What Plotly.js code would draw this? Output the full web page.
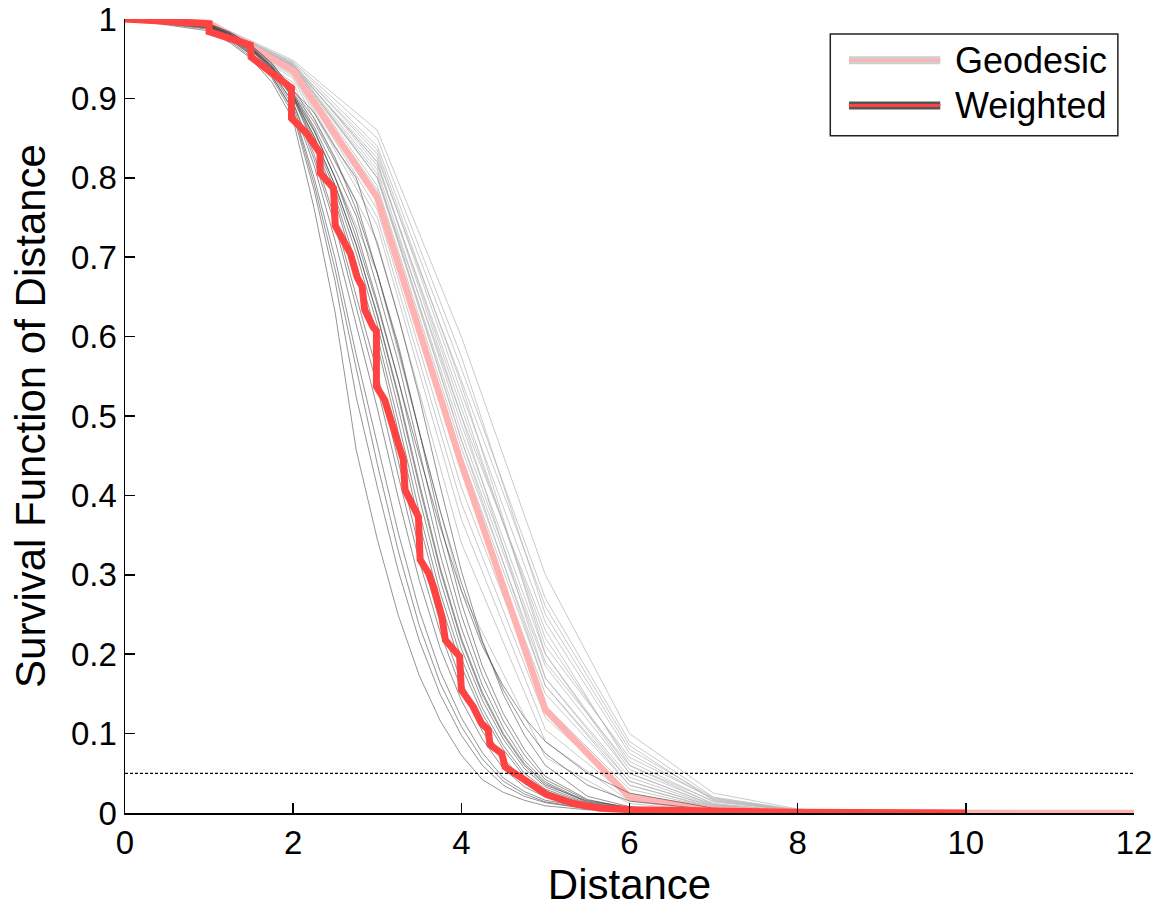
<!DOCTYPE html>
<html>
<head>
<meta charset="utf-8">
<script src="https://cdn.plot.ly/plotly-3.0.1.min.js"></script>
<style>html,body{margin:0;padding:0;background:#fff;}#chart{width:1153px;height:915px;}</style>
</head>
<body>
<div id="chart"></div>
<script>
// ---- Geodesic distance (piecewise linear at integer distances) ----
const GEO_X = [0, 1, 2, 3, 4, 5, 6, 7, 8, 9, 10, 11, 12];
const GEO_MAIN = [1, 0.995, 0.935, 0.775, 0.44, 0.13, 0.02, 0.004, 0.001, 0, 0, 0, 0];
const GEO_SAMPLES = [
  [1, 0.997, 0.948, 0.86, 0.60, 0.30, 0.10, 0.025, 0.005, 0, 0, 0, 0],
  [1, 0.996, 0.945, 0.84, 0.56, 0.27, 0.09, 0.020, 0.004, 0, 0, 0, 0],
  [1, 0.996, 0.944, 0.815, 0.52, 0.21, 0.07, 0.018, 0.004, 0, 0, 0, 0],
  [1, 0.996, 0.943, 0.83, 0.53, 0.24, 0.075, 0.017, 0.003, 0, 0, 0, 0],
  [1, 0.995, 0.942, 0.82, 0.51, 0.22, 0.065, 0.014, 0.003, 0, 0, 0, 0],
  [1, 0.995, 0.941, 0.80, 0.50, 0.23, 0.06, 0.015, 0.003, 0, 0, 0, 0],
  [1, 0.995, 0.940, 0.81, 0.49, 0.20, 0.055, 0.012, 0.002, 0, 0, 0, 0],
  [1, 0.995, 0.940, 0.80, 0.47, 0.185, 0.05, 0.010, 0.002, 0, 0, 0, 0],
  [1, 0.994, 0.938, 0.79, 0.46, 0.17, 0.045, 0.009, 0.002, 0, 0, 0, 0],
  [1, 0.994, 0.936, 0.785, 0.45, 0.16, 0.04, 0.008, 0.001, 0, 0, 0, 0],
  [1, 0.994, 0.934, 0.77, 0.43, 0.15, 0.035, 0.007, 0.001, 0, 0, 0, 0],
  [1, 0.993, 0.932, 0.76, 0.41, 0.135, 0.03, 0.006, 0.001, 0, 0, 0, 0],
  [1, 0.993, 0.930, 0.75, 0.39, 0.12, 0.025, 0.005, 0.001, 0, 0, 0, 0],
  [1, 0.992, 0.928, 0.74, 0.37, 0.105, 0.02, 0.004, 0.001, 0, 0, 0, 0],
  [1, 0.992, 0.925, 0.72, 0.34, 0.09, 0.015, 0.003, 0, 0, 0, 0, 0],
  [1, 0.990, 0.920, 0.68, 0.28, 0.07, 0.012, 0.002, 0, 0, 0, 0, 0],
  [1, 0.995, 0.939, 0.825, 0.545, 0.26, 0.085, 0.016, 0.002, 0, 0, 0, 0],
  [1, 0.994, 0.937, 0.80, 0.48, 0.19, 0.06, 0.011, 0.002, 0, 0, 0, 0],
  [1, 0.996, 0.946, 0.85, 0.575, 0.25, 0.08, 0.019, 0.003, 0, 0, 0, 0],
  [1, 0.995, 0.942, 0.835, 0.54, 0.20, 0.05, 0.010, 0.002, 0, 0, 0, 0],
  [1, 0.995, 0.941, 0.82, 0.50, 0.17, 0.04, 0.008, 0.001, 0, 0, 0, 0],
  [1, 0.994, 0.939, 0.805, 0.47, 0.16, 0.035, 0.006, 0.001, 0, 0, 0, 0]
];

// ---- Weighted distance ----
const WGT_X = [0, 1, 1.25, 1.5, 1.75, 2, 2.25, 2.5, 2.75, 3, 3.25, 3.5, 3.75, 4, 4.25, 4.5, 4.75, 5, 5.5, 6, 7, 8, 10];
const WGT_SAMPLES = [
  [1, 0.985, 0.970, 0.950, 0.920, 0.873, 0.761, 0.630, 0.457, 0.345, 0.249, 0.173, 0.116, 0.073, 0.042, 0.026, 0.016, 0.009, 0.004, 0.002, 0, 0, 0],
  [1, 0.987, 0.972, 0.952, 0.925, 0.880, 0.784, 0.669, 0.524, 0.411, 0.305, 0.217, 0.149, 0.098, 0.060, 0.035, 0.021, 0.013, 0.005, 0.002, 0.001, 0, 0],
  [1, 0.988, 0.974, 0.955, 0.927, 0.886, 0.800, 0.698, 0.577, 0.466, 0.353, 0.255, 0.178, 0.120, 0.076, 0.044, 0.027, 0.016, 0.007, 0.003, 0.001, 0, 0],
  [1, 0.989, 0.976, 0.956, 0.930, 0.890, 0.815, 0.720, 0.615, 0.510, 0.397, 0.293, 0.207, 0.142, 0.093, 0.056, 0.033, 0.020, 0.008, 0.003, 0.001, 0, 0],
  [1, 0.990, 0.977, 0.958, 0.932, 0.894, 0.823, 0.740, 0.637, 0.537, 0.425, 0.317, 0.227, 0.156, 0.103, 0.064, 0.037, 0.023, 0.008, 0.003, 0.001, 0, 0],
  [1, 0.990, 0.977, 0.958, 0.933, 0.895, 0.829, 0.748, 0.651, 0.555, 0.443, 0.333, 0.239, 0.166, 0.111, 0.069, 0.040, 0.024, 0.009, 0.004, 0.001, 0, 0],
  [1, 0.990, 0.978, 0.960, 0.935, 0.900, 0.840, 0.770, 0.680, 0.590, 0.480, 0.365, 0.265, 0.185, 0.125, 0.080, 0.046, 0.028, 0.010, 0.004, 0.001, 0, 0],
  [1, 0.990, 0.978, 0.961, 0.936, 0.901, 0.844, 0.776, 0.691, 0.601, 0.493, 0.379, 0.277, 0.195, 0.132, 0.085, 0.050, 0.030, 0.011, 0.0045, 0.001, 0, 0],
  [1, 0.991, 0.979, 0.962, 0.937, 0.902, 0.848, 0.784, 0.705, 0.615, 0.510, 0.397, 0.293, 0.207, 0.142, 0.093, 0.056, 0.033, 0.012, 0.005, 0.0015, 0, 0],
  [1, 0.991, 0.979, 0.962, 0.938, 0.903, 0.852, 0.790, 0.716, 0.626, 0.524, 0.411, 0.305, 0.217, 0.149, 0.098, 0.060, 0.035, 0.015, 0.007, 0.002, 0, 0],
  [1, 0.992, 0.980, 0.963, 0.939, 0.904, 0.858, 0.800, 0.734, 0.644, 0.546, 0.434, 0.325, 0.233, 0.161, 0.107, 0.066, 0.039, 0.014, 0.006, 0.002, 0, 0],
  [1, 0.992, 0.981, 0.964, 0.940, 0.906, 0.864, 0.810, 0.752, 0.662, 0.568, 0.457, 0.345, 0.249, 0.173, 0.116, 0.073, 0.042, 0.016, 0.007, 0.002, 0.001, 0],
  [1, 0.993, 0.982, 0.965, 0.941, 0.907, 0.870, 0.820, 0.770, 0.680, 0.590, 0.480, 0.365, 0.265, 0.185, 0.125, 0.080, 0.046, 0.017, 0.006, 0.002, 0.001, 0],
  [1, 0.994, 0.983, 0.967, 0.944, 0.910, 0.882, 0.838, 0.800, 0.716, 0.626, 0.524, 0.411, 0.305, 0.217, 0.149, 0.098, 0.060, 0.021, 0.008, 0.0025, 0.001, 0],
  [1, 0.994, 0.983, 0.967, 0.943, 0.910, 0.875, 0.825, 0.760, 0.680, 0.585, 0.480, 0.380, 0.290, 0.215, 0.155, 0.110, 0.075, 0.035, 0.015, 0.004, 0.001, 0],
  [1, 0.993, 0.981, 0.964, 0.940, 0.905, 0.860, 0.800, 0.725, 0.640, 0.545, 0.450, 0.360, 0.280, 0.210, 0.160, 0.120, 0.090, 0.050, 0.025, 0.006, 0.001, 0],
  [1, 0.989, 0.975, 0.955, 0.928, 0.884, 0.792, 0.684, 0.560, 0.440, 0.330, 0.236, 0.163, 0.109, 0.068, 0.040, 0.024, 0.014, 0.006, 0.002, 0.001, 0, 0],
  [1, 0.992, 0.980, 0.962, 0.938, 0.903, 0.852, 0.790, 0.715, 0.628, 0.528, 0.416, 0.309, 0.220, 0.152, 0.100, 0.062, 0.037, 0.013, 0.005, 0.002, 0, 0]
];
const WGT_MAIN_X = [0, 0.5, 1.0, 1.0, 1.49, 1.5, 1.8, 1.98, 1.98, 2.16, 2.32, 2.32, 2.48, 2.5, 2.68, 2.76, 2.82, 2.85, 2.95, 2.99, 2.99, 3.09, 3.15, 3.21, 3.27, 3.31, 3.33, 3.49, 3.51, 3.61, 3.67, 3.75, 3.77, 3.81, 3.98, 4.0, 4.14, 4.24, 4.32, 4.34, 4.48, 4.52, 4.66, 4.86, 5.02, 5.33, 5.65, 6.04, 6.84, 8.0, 10.0];
const WGT_MAIN_Y = [1.0, 0.998, 0.994, 0.984, 0.967, 0.952, 0.929, 0.913, 0.875, 0.856, 0.831, 0.806, 0.787, 0.74, 0.705, 0.675, 0.663, 0.634, 0.612, 0.607, 0.537, 0.52, 0.499, 0.478, 0.457, 0.445, 0.407, 0.373, 0.319, 0.302, 0.285, 0.26, 0.247, 0.218, 0.197, 0.155, 0.134, 0.113, 0.105, 0.086, 0.075, 0.058, 0.048, 0.035, 0.023, 0.012, 0.006, 0.004, 0.002, 0.001, 0.0];

// ---- 5% threshold ----
const THRESH_X = [0, 12];
const THRESH_Y = [0.05, 0.05];

const X_TICKS = [0, 2, 4, 6, 8, 10, 12];
const Y_TICKS = [0, 0.1, 0.2, 0.3, 0.4, 0.5, 0.6, 0.7, 0.8, 0.9, 1];
const Y_TICK_TEXT = ['0', '0.1', '0.2', '0.3', '0.4', '0.5', '0.6', '0.7', '0.8', '0.9', '1'];

const FONT = '"Liberation Sans", Arial, Helvetica, sans-serif';
const traces = [];
GEO_SAMPLES.forEach(ys => traces.push({
  x: GEO_X, y: ys, type: 'scatter', mode: 'lines', showlegend: false, hoverinfo: 'skip',
  line: {color: 'rgba(180,180,180,0.7)', width: 1}
}));
traces.push({x: GEO_X, y: GEO_MAIN, type: 'scatter', mode: 'lines', showlegend: false,
  line: {color: '#ffb2b2', width: 6.5}});
WGT_SAMPLES.forEach(ys => traces.push({
  x: WGT_X, y: ys, type: 'scatter', mode: 'lines', showlegend: false, hoverinfo: 'skip',
  line: {color: 'rgba(60,60,60,0.55)', width: 1}
}));
traces.push({x: WGT_MAIN_X, y: WGT_MAIN_Y, type: 'scatter', mode: 'lines', showlegend: false,
  line: {color: '#ff4242', width: 7}});
traces.push({x: THRESH_X, y: THRESH_Y, type: 'scatter', mode: 'lines', showlegend: false,
  line: {color: '#000', width: 1.2, dash: '3px,2px'}});

// legend drawn in paper coordinates
const LX0 = 0.7175, LX1 = 0.808, LY_G = 0.948, LY_W = 0.891;
const shapes = [
  {type: 'rect', xref: 'paper', yref: 'paper', x0: 0.699, x1: 0.984, y0: 0.853, y1: 0.981,
   line: {color: '#222', width: 1.5}, fillcolor: '#fff', layer: 'above'},
  {type: 'line', xref: 'paper', yref: 'paper', x0: LX0, x1: LX1, y0: LY_G, y1: LY_G, line: {color: '#cfcfcf', width: 8}, layer: 'above'},
  {type: 'line', xref: 'paper', yref: 'paper', x0: LX0, x1: LX1, y0: LY_G, y1: LY_G, line: {color: '#ffb2b2', width: 3}, layer: 'above'},
  {type: 'line', xref: 'paper', yref: 'paper', x0: LX0, x1: LX1, y0: LY_W, y1: LY_W, line: {color: '#555', width: 8}, layer: 'above'},
  {type: 'line', xref: 'paper', yref: 'paper', x0: LX0, x1: LX1, y0: LY_W, y1: LY_W, line: {color: '#ff4242', width: 3}, layer: 'above'}
];
const annotations = [
  {xref: 'paper', yref: 'paper', x: 0.8206, y: LY_G, xanchor: 'left', yanchor: 'middle', text: 'Geodesic', showarrow: false, font: {family: FONT, size: 36, color: '#000'}},
  {xref: 'paper', yref: 'paper', x: 0.8206, y: LY_W, xanchor: 'left', yanchor: 'middle', text: 'Weighted', showarrow: false, font: {family: FONT, size: 36, color: '#000'}}
];

const layout = {
  width: 1153, height: 915,
  margin: {l: 125, r: 19, t: 19, b: 102, pad: 0},
  paper_bgcolor: '#fff', plot_bgcolor: '#fff',
  font: {family: FONT, color: '#000'},
  showlegend: false,
  xaxis: {
    range: [0, 12], tickvals: X_TICKS, ticktext: X_TICKS.map(String),
    showline: true, linecolor: '#000', linewidth: 1.5, mirror: false,
    ticks: 'inside', ticklen: 10, tickwidth: 1.5, tickcolor: '#000',
    showgrid: false, zeroline: false, automargin: false,
    tickfont: {family: FONT, size: 33, color: '#000'},
    title: {text: 'Distance', font: {family: FONT, size: 42, color: '#000'}, standoff: 6}
  },
  yaxis: {
    range: [0, 1], tickvals: Y_TICKS, ticktext: Y_TICK_TEXT,
    showline: true, linecolor: '#000', linewidth: 1.5, mirror: false,
    ticks: 'inside', ticklen: 10, tickwidth: 1.5, tickcolor: '#000',
    showgrid: false, zeroline: false, automargin: false,
    tickfont: {family: FONT, size: 33, color: '#000'},
    title: {text: 'Survival Function of Distance', font: {family: FONT, size: 42, color: '#000'}, standoff: 12}
  },
  shapes: shapes,
  annotations: annotations
};

Plotly.newPlot('chart', traces, layout, {displayModeBar: false, staticPlot: true});
</script>
</body>
</html>
